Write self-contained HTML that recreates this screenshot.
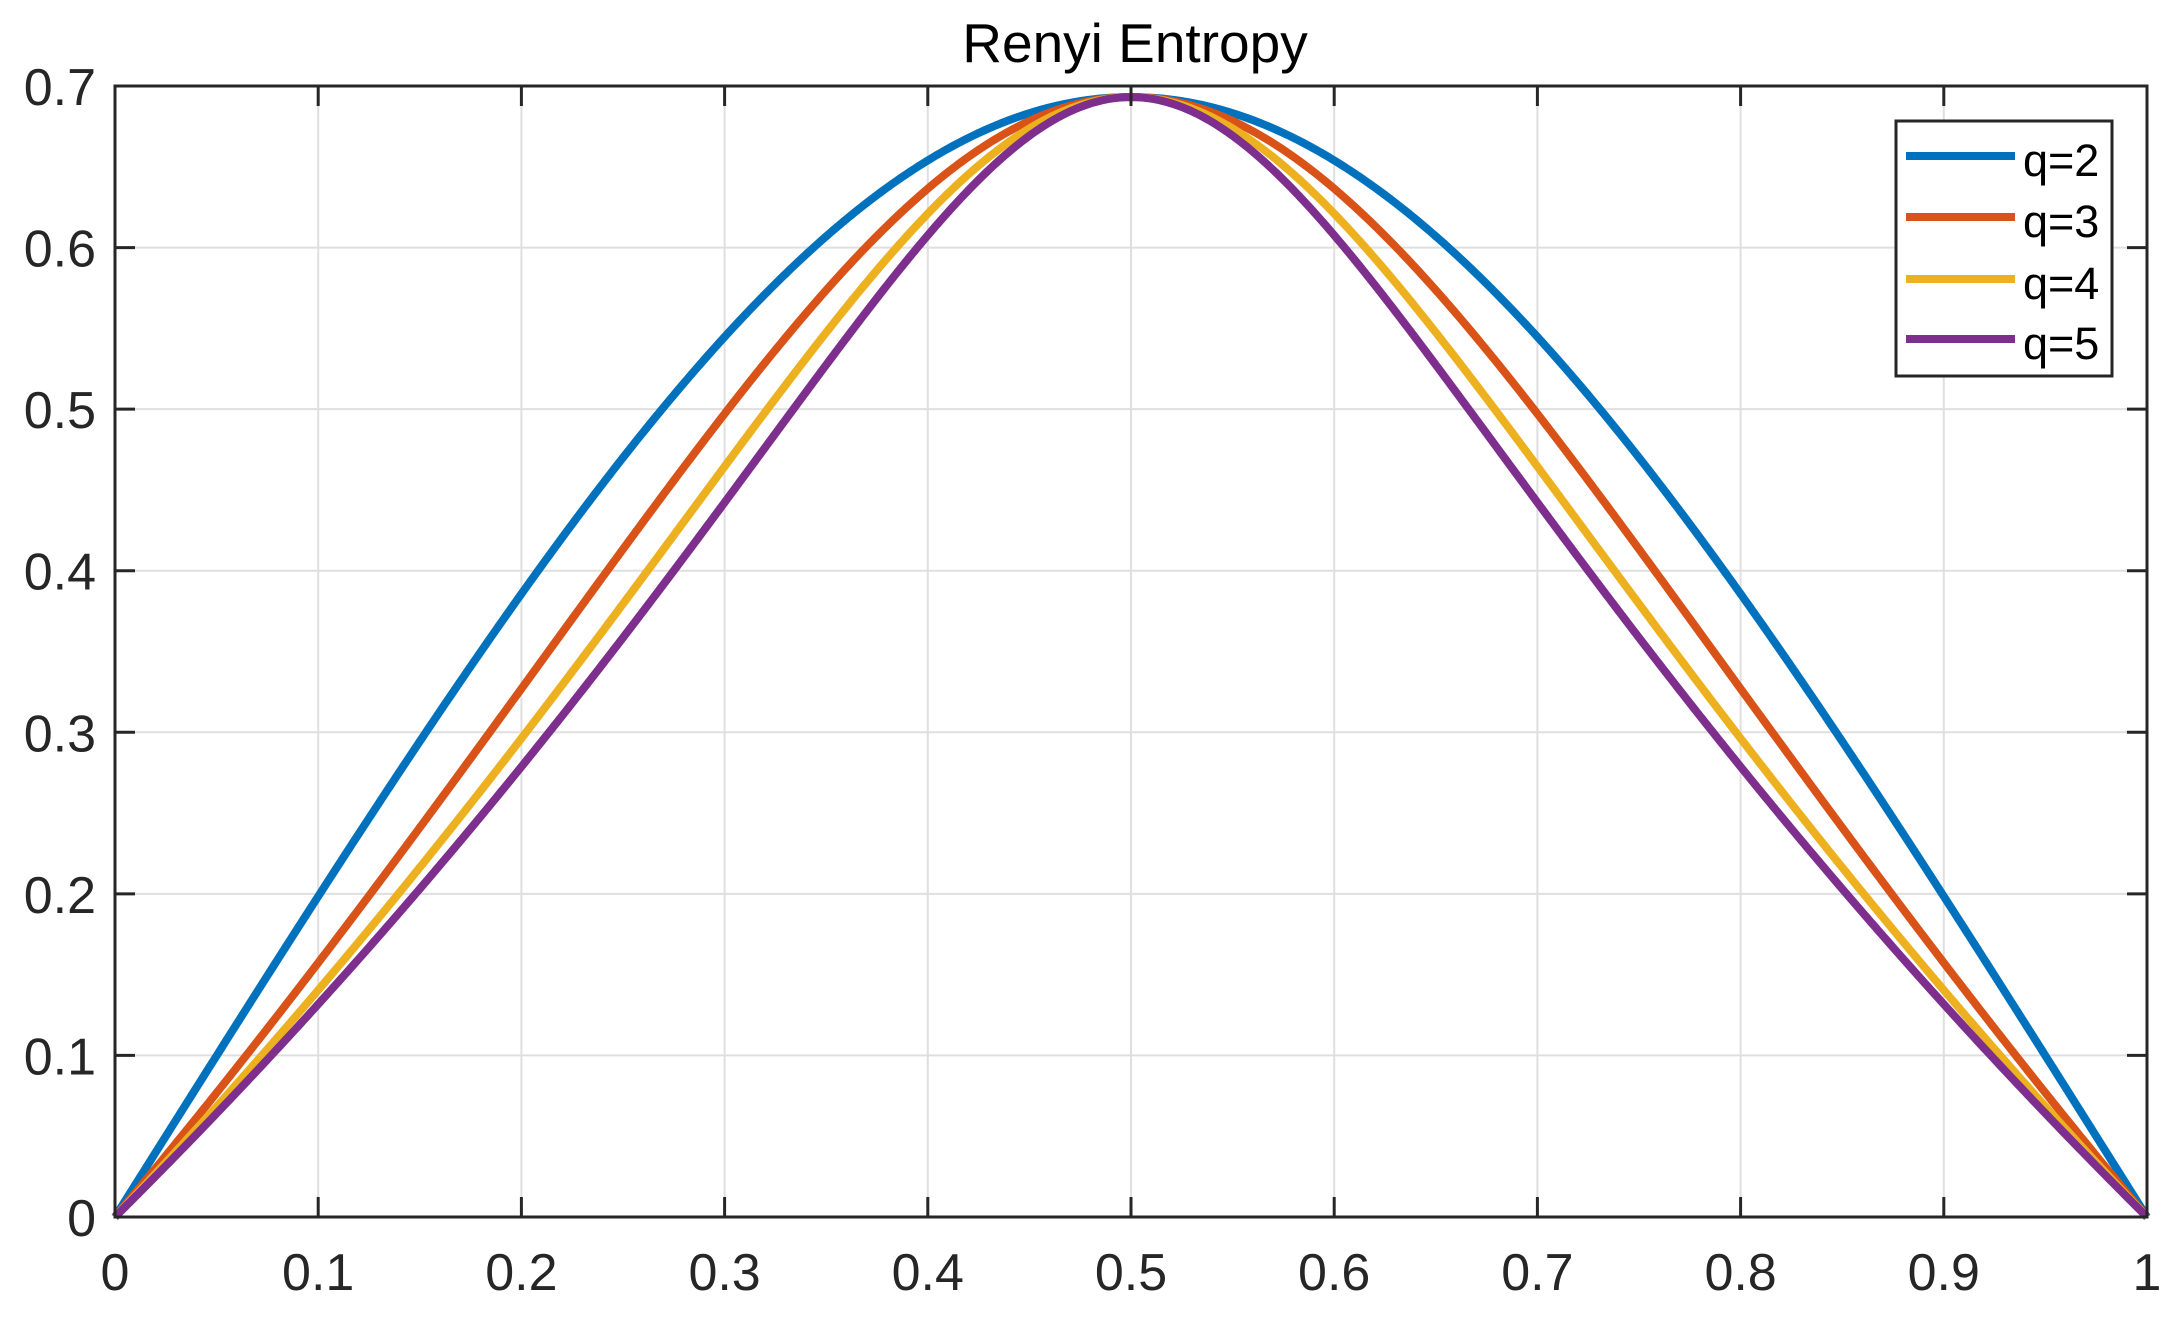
<!DOCTYPE html>
<html><head><meta charset="utf-8"><style>
html,body{margin:0;padding:0;background:#fff;}
svg text{font-family:"Liberation Sans",Arial,sans-serif;}
</style></head><body>
<svg id="s" width="2173" height="1321" xmlns="http://www.w3.org/2000/svg">
<rect width="2173" height="1321" fill="#fff"/>
<g id="grid" stroke="#dfdfdf" stroke-width="2"></g>
<g id="curves" fill="none" stroke-width="8" stroke-linejoin="round"></g>
<rect x="115" y="86" width="2032" height="1131" fill="none" stroke="#262626" stroke-width="3"/>
<g id="ticks" stroke="#262626" stroke-width="3"></g>
<g id="labels" font-size="52" fill="#262626"></g>
<text x="1135" y="62" font-size="55" text-anchor="middle" fill="#000">Renyi Entropy</text>
<rect x="1896" y="121" width="216" height="255" fill="#fff" stroke="#262626" stroke-width="3"/>
<g stroke-width="8">
<line x1="1906" y1="156" x2="2015" y2="156" stroke="#0072BD"/>
<line x1="1906" y1="217" x2="2015" y2="217" stroke="#D95319"/>
<line x1="1906" y1="279" x2="2015" y2="279" stroke="#EDB120"/>
<line x1="1906" y1="339" x2="2015" y2="339" stroke="#7E2F8E"/>
</g>
<g font-size="45" fill="#000">
<text x="2023" y="176">q=2</text>
<text x="2023" y="237">q=3</text>
<text x="2023" y="299">q=4</text>
<text x="2023" y="359">q=5</text>
</g>
</svg>
<script>
var NS="http://www.w3.org/2000/svg";
var L=115,T=86,W=2032,H=1131,B=T+H,R=L+W;
function el(p,t,a,txt){var e=document.createElementNS(NS,t);for(var k in a)e.setAttribute(k,a[k]);if(txt!=null)e.textContent=txt;document.getElementById(p).appendChild(e);}
for(var i=0;i<=10;i++){var x=L+W*i/10;
 if(i>0&&i<10)el("grid","line",{x1:x,y1:T,x2:x,y2:B});
 el("ticks","line",{x1:x,y1:B,x2:x,y2:B-20});el("ticks","line",{x1:x,y1:T,x2:x,y2:T+20});
 el("labels","text",{x:x,y:1290,"text-anchor":"middle"},i==0?"0":i==10?"1":"0."+i);}
for(var j=0;j<=7;j++){var y=B-H*j/7;
 if(j>0&&j<7)el("grid","line",{x1:L,y1:y,x2:R,y2:y});
 el("ticks","line",{x1:L,y1:y,x2:L+20,y2:y});el("ticks","line",{x1:R,y1:y,x2:R-20,y2:y});
 el("labels","text",{x:96,y:y+19,"text-anchor":"end"},j==0?"0":"0."+j);}
var cols=["#0072BD","#D95319","#EDB120","#7E2F8E"];
[2,3,4,5].forEach(function(q,k){var d="";
 for(var n=0;n<=800;n++){var p=n/800;var h=Math.log(Math.pow(p,q)+Math.pow(1-p,q))/(1-q);
  d+=(n?"L":"M")+(L+W*p).toFixed(2)+","+(B-H*h/0.7).toFixed(2);}
 el("curves","path",{d:d,stroke:cols[k]});});
</script>
</body></html>
